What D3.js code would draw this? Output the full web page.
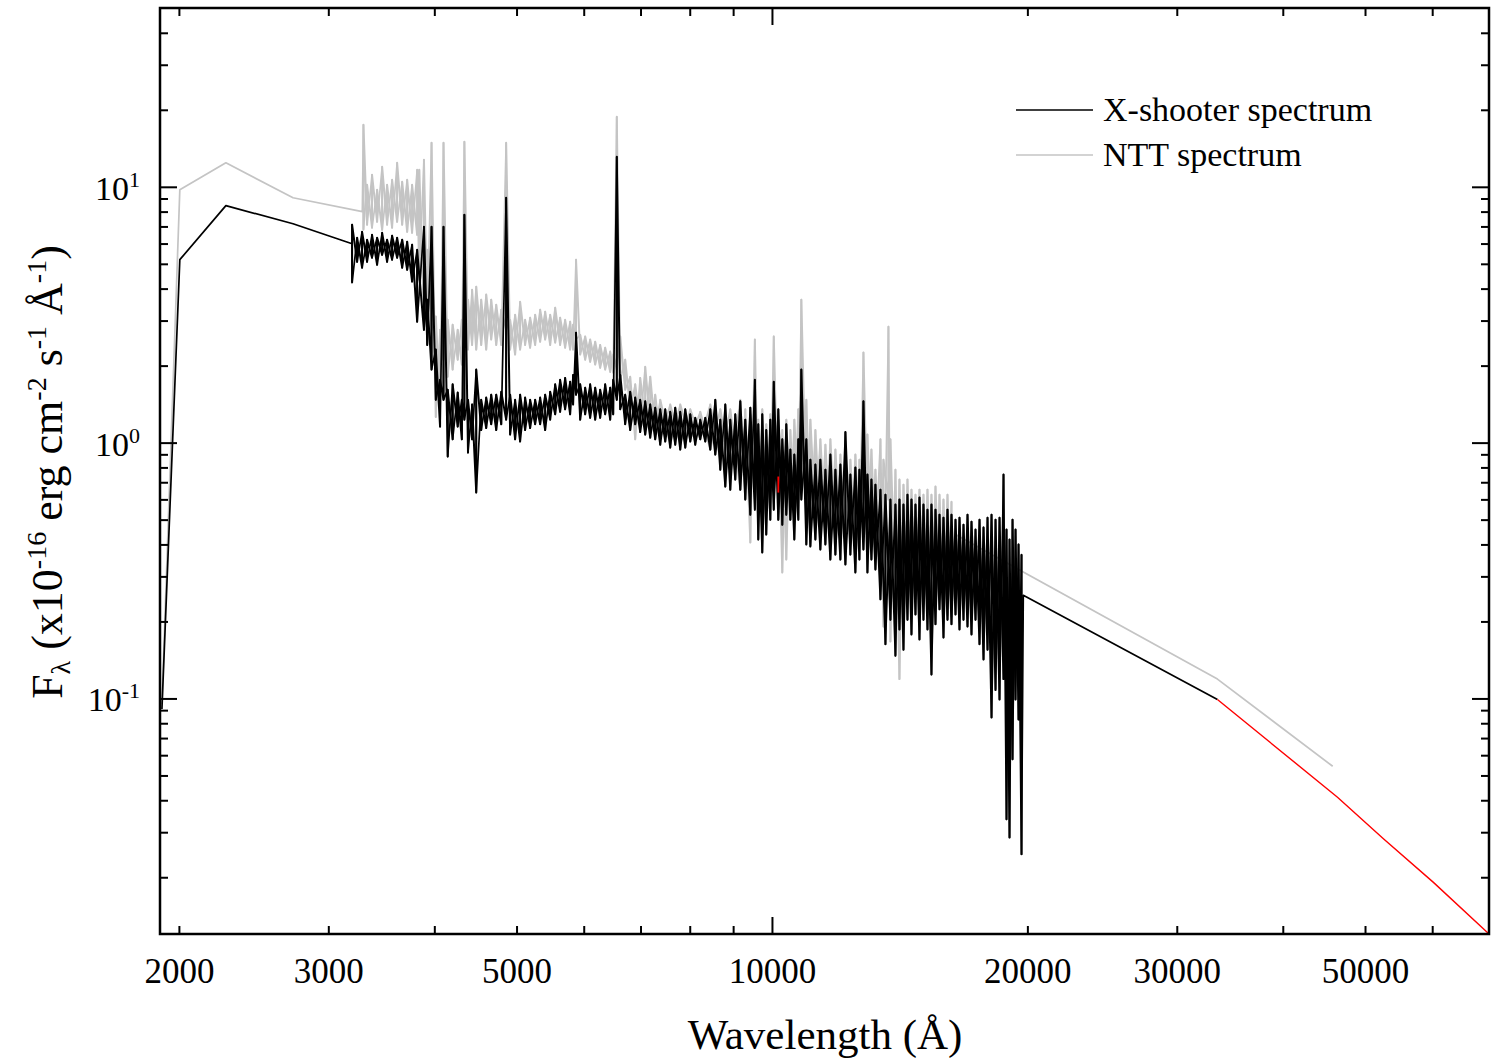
<!DOCTYPE html>
<html>
<head>
<meta charset="utf-8">
<script src="https://cdn.jsdelivr.net/npm/d3@7"></script>
<style>
  body { margin: 0; background: #fff; }
  text { font-family: "Liberation Serif", "Times New Roman", serif; fill: #000; }
</style>
</head>
<body>
<svg id="chart" width="1499" height="1060"></svg>
<script>
// SED plot: X-shooter vs NTT spectrum, log-log

// X-shooter smooth parts (wavelength in A, flux in 1e-16 erg/cm2/s/A)
var xsBlueWave = [1910, 2005, 2272, 2726, 3200];
var xsBlueFlux = [0.091, 5.19, 8.44, 7.17, 5.99];
var xsRedWave = [19780, 33500];
var xsRedFlux = [0.253, 0.099];

// X-shooter noisy part, upper / lower envelope per wavelength bin
var xsWave = [
  3200, 3244, 3288, 3333, 3378, 3425, 3472, 3519, 3567, 3616,
  3666, 3716, 3766, 3818, 3889, 3924, 3970, 4016, 4063, 4101,
  4148, 4204, 4262, 4310, 4340, 4383, 4432, 4482, 4543, 4605,
  4668, 4732, 4797, 4861, 4914, 4981, 5049, 5118, 5188, 5259,
  5331, 5404, 5478, 5553, 5628, 5705, 5783, 5830, 5876, 5943,
  6024, 6106, 6190, 6274, 6360, 6447, 6500, 6563, 6625, 6715,
  6807, 6900, 6994, 7090, 7187, 7285, 7385, 7486, 7588, 7692,
  7797, 7904, 8012, 8121, 8232, 8345, 8459, 8575, 8692, 8811,
  8931, 9053, 9177, 9302, 9430, 9546, 9636, 9741, 9847, 9956,
  10049, 10174, 10285, 10397, 10512, 10626, 10742, 10830, 10978, 11099,
  11251, 11404, 11561, 11718, 11879, 12041, 12206, 12372, 12541, 12679,
  12818, 12958, 13099, 13242, 13423, 13607, 13792, 13981, 14134, 14289,
  14445, 14603, 14762, 14923, 15086, 15251, 15417, 15586, 15756, 15928,
  16102, 16278, 16456, 16635, 16817, 17001, 17186, 17374, 17564, 17756,
  17950, 18146, 18344, 18544, 18746, 18899, 19054, 19210, 19367, 19526,
  19685
];
var xsHigh = [
  7.11, 6.32, 6.67, 6.21, 6.49, 6.32, 6.61, 6.21, 6.44, 6.32,
  6.21, 6.10, 5.94, 5.67, 6.98, 3.62, 6.98, 2.31, 1.76, 6.98,
  1.61, 1.69, 1.57, 1.47, 7.77, 1.47, 1.41, 1.93, 1.47, 1.50,
  1.54, 1.54, 1.58, 9.06, 1.54, 1.47, 1.54, 1.50, 1.47, 1.47,
  1.50, 1.54, 1.58, 1.69, 1.76, 1.79, 1.73, 1.84, 2.69, 1.69,
  1.64, 1.69, 1.64, 1.61, 1.69, 1.64, 1.76, 13.1, 1.84, 1.54,
  1.58, 1.50, 1.47, 1.45, 1.41, 1.37, 1.35, 1.35, 1.32, 1.37,
  1.32, 1.35, 1.29, 1.25, 1.23, 1.25, 1.35, 1.47, 1.23, 1.41,
  1.23, 1.29, 1.45, 1.23, 1.37, 1.76, 1.18, 1.29, 1.12, 1.23,
  1.73, 1.35, 1.03, 1.18, 0.939, 0.898, 1.03, 1.93, 1.03, 0.858,
  0.821, 0.858, 0.784, 0.898, 0.784, 0.821, 1.10, 0.750, 0.799, 0.784,
  1.45, 0.750, 0.717, 0.685, 0.655, 0.626, 0.599, 0.573, 0.599, 0.573,
  0.626, 0.599, 0.573, 0.610, 0.573, 0.547, 0.573, 0.547, 0.523, 0.509,
  0.547, 0.523, 0.500, 0.509, 0.478, 0.523, 0.491, 0.457, 0.500, 0.466,
  0.509, 0.523, 0.500, 0.509, 0.750, 0.457, 0.418, 0.500, 0.457, 0.400,
  0.365
];
var xsLow = [
  4.22, 5.09, 4.83, 5.09, 5.28, 4.96, 5.42, 5.09, 5.19, 5.28,
  4.83, 4.74, 4.26, 2.97, 2.76, 2.41, 1.93, 1.47, 1.155, 1.47,
  0.882, 1.03, 1.155, 1.03, 1.23, 0.914, 1.03, 0.638, 1.12, 1.14,
  1.18, 1.12, 1.18, 1.23, 1.075, 1.03, 1.01, 1.12, 1.14, 1.18,
  1.18, 1.12, 1.23, 1.29, 1.32, 1.35, 1.29, 1.41, 1.54, 1.23,
  1.29, 1.25, 1.23, 1.25, 1.29, 1.23, 1.29, 1.47, 1.35, 1.18,
  1.12, 1.18, 1.10, 1.075, 1.046, 1.03, 0.982, 1.01, 0.956, 0.982,
  0.939, 0.956, 1.01, 0.982, 1.03, 1.01, 0.939, 0.898, 0.784, 0.673,
  0.655, 0.717, 0.655, 0.599, 0.523, 0.547, 0.418, 0.372, 0.437, 0.500,
  0.547, 0.500, 0.478, 0.523, 0.500, 0.418, 0.500, 0.599, 0.400, 0.393,
  0.418, 0.382, 0.400, 0.349, 0.365, 0.349, 0.334, 0.365, 0.311, 0.349,
  0.382, 0.311, 0.349, 0.319, 0.244, 0.163, 0.203, 0.147, 0.186, 0.155,
  0.203, 0.178, 0.213, 0.170, 0.203, 0.186, 0.124, 0.195, 0.223, 0.173,
  0.203, 0.195, 0.213, 0.186, 0.203, 0.191, 0.178, 0.203, 0.163, 0.142,
  0.155, 0.0843, 0.108, 0.0991, 0.119, 0.0337, 0.0286, 0.0578, 0.0991, 0.0828,
  0.0246
];

// NTT smooth parts
var nttBlueWave = [1910, 2005, 2272, 2726, 3290];
var nttBlueFlux = [0.095, 9.73, 12.41, 9.06, 8.0];
var nttRedWave = [16456, 33500, 45800];
var nttRedFlux = [0.437, 0.119, 0.0543];

// NTT noisy part
var nttWave = [
  3300, 3333, 3378, 3425, 3472, 3519, 3567, 3616, 3666, 3716,
  3766, 3818, 3840, 3889, 3924, 3970, 4016, 4063, 4101, 4148,
  4204, 4262, 4310, 4340, 4383, 4432, 4482, 4543, 4605, 4668,
  4732, 4797, 4861, 4914, 4981, 5049, 5118, 5188, 5259, 5331,
  5404, 5478, 5553, 5628, 5705, 5783, 5830, 5876, 5943, 6024,
  6106, 6190, 6274, 6360, 6447, 6500, 6563, 6625, 6715, 6807,
  6900, 6994, 7090, 7187, 7285, 7385, 7588, 7797, 8012, 8232,
  8459, 8692, 8931, 9177, 9302, 9430, 9546, 9636, 9741, 9847,
  9956, 10049, 10174, 10285, 10397, 10512, 10626, 10742, 10830, 10978,
  11099, 11251, 11404, 11561, 11718, 11879, 12041, 12206, 12372, 12541,
  12679, 12818, 12958, 13099, 13242, 13423, 13533, 13718, 13792, 13981,
  14134, 14289, 14445, 14603, 14762, 14923, 15086, 15251, 15417, 15586,
  15756, 15928, 16102, 16278
];
var nttHigh = [
  17.47, 10.18, 11.14, 9.73, 11.97, 10.18, 10.65, 12.41, 10.46, 10.65,
  10.18, 11.65, 11.65, 12.75, 5.67, 14.86, 3.11, 2.76, 14.86, 3.02,
  2.89, 2.76, 3.02, 14.99, 3.62, 3.96, 4.07, 3.62, 3.79, 3.62,
  3.46, 3.31, 14.86, 3.02, 3.16, 3.55, 3.02, 3.08, 3.16, 3.31,
  3.25, 3.16, 3.37, 3.08, 3.02, 2.97, 2.89, 5.19, 2.64, 2.60,
  2.53, 2.48, 2.41, 2.35, 2.27, 2.21, 18.77, 2.60, 2.11, 1.81,
  1.69, 1.79, 1.98, 1.81, 1.54, 1.47, 1.41, 1.41, 1.35, 1.32,
  1.41, 1.35, 1.35, 1.47, 1.35, 1.29, 2.53, 1.23, 1.35, 1.18,
  1.29, 2.60, 1.23, 1.12, 1.23, 1.12, 1.23, 1.35, 3.62, 1.47,
  1.23, 1.12, 1.03, 0.982, 1.03, 0.939, 0.898, 0.939, 0.858, 0.898,
  0.858, 2.25, 1.075, 0.939, 0.784, 1.03, 0.858, 2.84, 1.03, 0.784,
  0.717, 0.685, 0.717, 0.655, 0.626, 0.655, 0.626, 0.655, 0.626, 0.673,
  0.626, 0.599, 0.626, 0.588
];
var nttLow = [
  6.79, 7.11, 6.92, 7.30, 6.79, 7.11, 6.92, 7.30, 7.11, 6.67,
  6.61, 6.49, 4.33, 2.94, 3.02, 2.76, 1.26, 1.41, 2.11, 1.81,
  1.93, 2.11, 2.02, 2.53, 2.31, 2.41, 2.31, 2.41, 2.31, 2.53,
  2.41, 2.41, 2.76, 2.31, 2.21, 2.31, 2.41, 2.35, 2.41, 2.48,
  2.53, 2.41, 2.46, 2.41, 2.35, 2.31, 2.31, 2.53, 2.21, 2.11,
  2.07, 2.02, 1.96, 1.93, 1.89, 1.88, 1.93, 1.76, 1.61, 1.35,
  1.03, 1.18, 1.23, 1.18, 1.12, 1.03, 0.982, 0.982, 1.03, 1.03,
  0.939, 0.858, 0.784, 0.655, 0.599, 0.407, 0.599, 0.500, 0.457, 0.547,
  0.599, 0.655, 0.500, 0.311, 0.349, 0.500, 0.547, 0.599, 0.784, 0.547,
  0.457, 0.500, 0.457, 0.457, 0.418, 0.437, 0.400, 0.400, 0.400, 0.382,
  0.418, 0.457, 0.500, 0.418, 0.382, 0.319, 0.191, 0.599, 0.167, 0.244,
  0.119, 0.203, 0.244, 0.223, 0.244, 0.223, 0.233, 0.223, 0.213, 0.223,
  0.244, 0.233, 0.211, 0.209
];

// red extrapolation and the small red piece showing near 1 micron
var fitWave = [33500, 46400, 52600, 60200, 69800];
var fitFlux = [0.099, 0.0411, 0.0282, 0.0191, 0.0121];
var fitPatchWave = [10174, 10174];
var fitPatchFlux = [0.737, 0.638];

// ticks
var xMinor = [2000, 3000, 4000, 5000, 6000, 7000, 8000, 9000, 20000, 30000, 40000, 50000, 60000];
var xMajor = [10000];
var xTickLabels = [2000, 3000, 5000, 10000, 20000, 30000, 50000];
var yMinor = [0.02, 0.03, 0.04, 0.05, 0.06, 0.07, 0.08, 0.09,
  0.2, 0.3, 0.4, 0.5, 0.6, 0.7, 0.8, 0.9,
  2, 3, 4, 5, 6, 7, 8, 9, 20, 30, 40];
var yMajor = [0.1, 1, 10];
var yTickExp = ['-1', '0', '1'];

var legendNames = ['X-shooter spectrum', 'NTT spectrum'];
var legendColors = ['#000000', '#c4c4c4'];

var plotLeft = 160, plotRight = 1489, plotTop = 8, plotBottom = 934;

var svg = d3.select('#chart');

var x = d3.scaleLog().domain([1900, 70000]).range([plotLeft, plotRight]);
var y = d3.scaleLog().domain([0.012, 50]).range([plotBottom, plotTop]);

function pairs(wave, flux) {
  return wave.map(function (w, i) { return [w, flux[i]]; });
}

// each bin is a stroke between the two envelope values
function zigzag(wave, a, b) {
  var pts = [];
  wave.forEach(function (w, i) {
    pts.push([w, a[i]]);
    pts.push([w, b[i]]);
  });
  return pts;
}

var line = d3.line()
  .x(function (d) { return x(d[0]); })
  .y(function (d) { return y(d[1]); });

svg.append('defs').append('clipPath').attr('id', 'plotClip')
  .append('rect')
    .attr('x', plotLeft).attr('y', plotTop)
    .attr('width', plotRight - plotLeft).attr('height', plotBottom - plotTop);

var plot = svg.append('g').attr('clip-path', 'url(#plotClip)');

function drawSpectrum(blue, wave, hi, lo, red, color) {
  var full = blue.concat(zigzag(wave, hi, lo)).concat(red);
  plot.append('path')
    .attr('d', line(full))
    .attr('fill', 'none')
    .attr('stroke', color)
    .attr('stroke-width', 1.7)
    .attr('stroke-linejoin', 'round');
  // second pass in the other order so the noise band fills in
  plot.append('path')
    .attr('d', line(zigzag(wave, lo, hi)))
    .attr('fill', 'none')
    .attr('stroke', color)
    .attr('stroke-width', 2)
    .attr('stroke-linejoin', 'round');
}

drawSpectrum(pairs(nttBlueWave, nttBlueFlux), nttWave, nttHigh, nttLow,
  pairs(nttRedWave, nttRedFlux), legendColors[1]);
drawSpectrum(pairs(xsBlueWave, xsBlueFlux), xsWave, xsHigh, xsLow,
  pairs(xsRedWave, xsRedFlux), legendColors[0]);

plot.append('path')
  .attr('d', line(pairs(fitWave, fitFlux)))
  .attr('fill', 'none')
  .attr('stroke', '#ff0000')
  .attr('stroke-width', 1.4);

plot.append('path')
  .attr('d', line(pairs(fitPatchWave, fitPatchFlux)))
  .attr('fill', 'none')
  .attr('stroke', '#ff0000')
  .attr('stroke-width', 1.8);

// axes, ticks pointing inwards on all four sides
var xAll = xMinor.concat(xMajor);
var yAll = yMinor.concat(yMajor);

function styleAxis(g) {
  g.select('.domain').remove();
  g.selectAll('.tick line').attr('stroke', '#000').attr('stroke-width', 2);
  g.attr('font-family', null).attr('font-size', null);
}

var xBottom = svg.append('g')
  .attr('transform', 'translate(0,' + plotBottom + ')')
  .call(d3.axisBottom(x).tickValues(xAll).tickSizeInner(-8).tickSizeOuter(0).tickPadding(24)
    .tickFormat(function (d) { return xTickLabels.indexOf(d) >= 0 ? d : ''; }))
  .call(styleAxis);
xBottom.selectAll('.tick text').style('font-size', '35px');

var xTop = svg.append('g')
  .attr('transform', 'translate(0,' + plotTop + ')')
  .call(d3.axisTop(x).tickValues(xAll).tickSizeInner(-8).tickSizeOuter(0).tickFormat(''))
  .call(styleAxis);

var yLeft = svg.append('g')
  .attr('transform', 'translate(' + plotLeft + ',0)')
  .call(d3.axisLeft(y).tickValues(yAll).tickSizeInner(-8).tickSizeOuter(0).tickFormat(''))
  .call(styleAxis);

var yRight = svg.append('g')
  .attr('transform', 'translate(' + plotRight + ',0)')
  .call(d3.axisRight(y).tickValues(yAll).tickSizeInner(-8).tickSizeOuter(0).tickFormat(''))
  .call(styleAxis);

// longer major ticks
xBottom.selectAll('.tick').filter(function (d) { return xMajor.indexOf(d) >= 0; })
  .select('line').attr('y2', -17);
xTop.selectAll('.tick').filter(function (d) { return xMajor.indexOf(d) >= 0; })
  .select('line').attr('y2', 17);
yLeft.selectAll('.tick').filter(function (d) { return yMajor.indexOf(d) >= 0; })
  .select('line').attr('x2', 17);
yRight.selectAll('.tick').filter(function (d) { return yMajor.indexOf(d) >= 0; })
  .select('line').attr('x2', -17);

// y labels as powers of ten
yMajor.forEach(function (v, i) {
  var t = svg.append('text')
    .attr('x', 140)
    .attr('y', y(v) + 13)
    .attr('text-anchor', 'end')
    .style('font-size', '34px');
  t.append('tspan').text('10');
  t.append('tspan').attr('dy', -13).style('font-size', '22px').text(yTickExp[i]);
});

// frame
svg.append('rect')
  .attr('x', plotLeft).attr('y', plotTop)
  .attr('width', plotRight - plotLeft).attr('height', plotBottom - plotTop)
  .attr('fill', 'none')
  .attr('stroke', '#000')
  .attr('stroke-width', 2.5);

// axis titles
svg.append('text')
  .attr('x', 825)
  .attr('y', 1049)
  .attr('text-anchor', 'middle')
  .style('font-size', '43px')
  .text('Wavelength (\u00c5)');

var yTitle = svg.append('text')
  .attr('transform', 'translate(62,472) rotate(-90)')
  .attr('text-anchor', 'middle')
  .style('font-size', '44px');
yTitle.append('tspan').text('F');
yTitle.append('tspan').attr('dy', 8).style('font-size', '28px').text('\u03bb');
yTitle.append('tspan').attr('dy', -8).text(' (x10');
yTitle.append('tspan').attr('dy', -16).style('font-size', '28px').text('-16');
yTitle.append('tspan').attr('dy', 16).text(' erg cm');
yTitle.append('tspan').attr('dy', -16).style('font-size', '28px').text('-2');
yTitle.append('tspan').attr('dy', 16).text(' s');
yTitle.append('tspan').attr('dy', -16).style('font-size', '28px').text('-1');
yTitle.append('tspan').attr('dy', 16).text(' \u00c5');
yTitle.append('tspan').attr('dy', -16).style('font-size', '28px').text('-1');
yTitle.append('tspan').attr('dy', 16).text(')');

// legend
var legend = svg.append('g');
legendNames.forEach(function (name, i) {
  var ly = 110 + i * 45;
  legend.append('line')
    .attr('x1', 1016).attr('x2', 1093)
    .attr('y1', ly).attr('y2', ly)
    .attr('stroke', legendColors[i])
    .attr('stroke-width', 1.6);
  legend.append('text')
    .attr('x', 1103)
    .attr('y', ly + 11)
    .style('font-size', '34px')
    .text(name);
});
</script>
</body>
</html>
